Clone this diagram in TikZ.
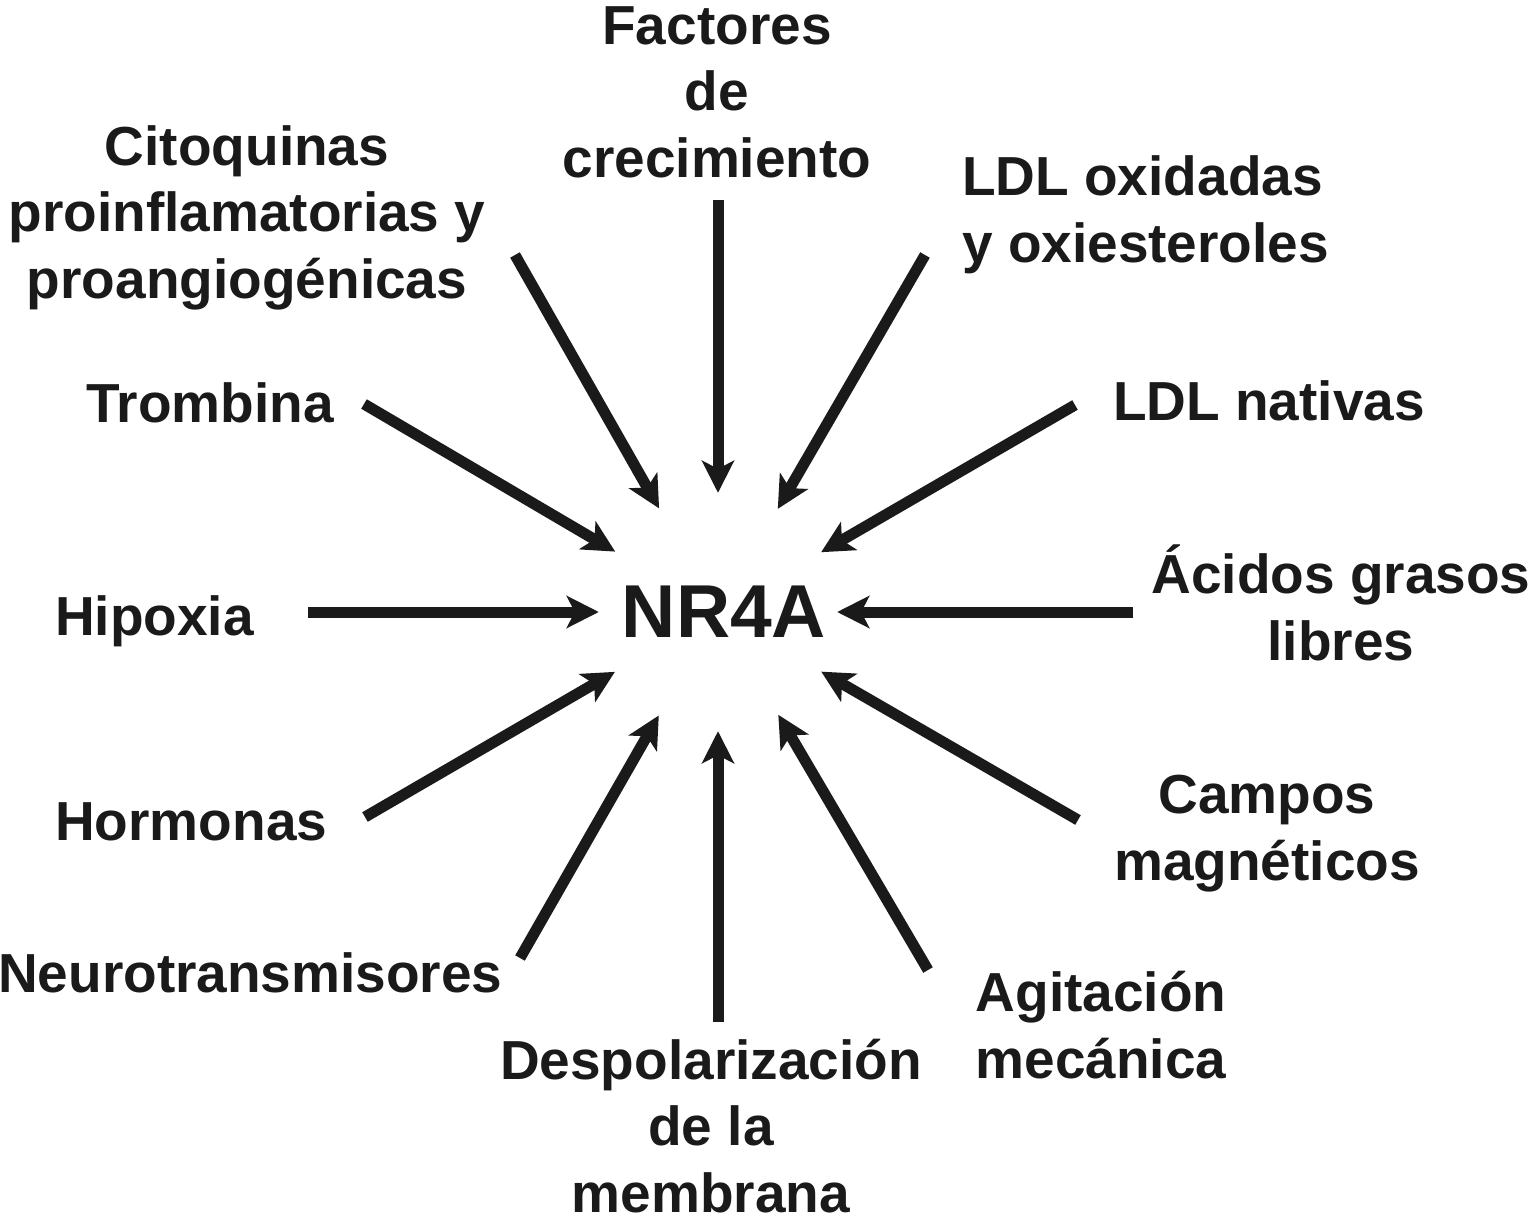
\documentclass[tikz,border=0pt]{standalone}
\usepackage{fontspec}
\setmainfont{Liberation Sans}
\usetikzlibrary{arrows.meta}
\definecolor{ink}{HTML}{1A1A1A}
\begin{document}
\begin{tikzpicture}[x=1pt,y=-1pt,
  lbl/.style={inner sep=0pt, text=ink, font=\fontsize{55}{66.5}\selectfont\bfseries},
  arr/.style={draw=ink, line width=11pt, -{Stealth[length=32pt,width=32pt,inset=8pt]}}]
\useasboundingbox (0,0) rectangle (1532,1223);
% centre
\node[circle, minimum size=238pt, inner sep=0pt, text=ink,
      font=\fontsize{75}{80}\selectfont\bfseries] (nr) at (718,612) {\hspace*{12pt}NR4A};
% labels (anchor = baseline of the last line)
\node[lbl, align=center, anchor=base] (fact) at (717,177) {Factores\\de\\crecimiento};
\node[lbl, align=center, anchor=base] (cito) at (247,298) {Citoquinas\\proinflamatorias y\\proangiogénicas};
\node[lbl, align=left, anchor=base west] (ldlox) at (962,262) {LDL oxidadas\\y oxiesteroles};
\node[lbl, anchor=base] (trom) at (210,422) {Trombina};
\node[lbl, anchor=base west] (ldlnat) at (1113,420) {LDL nativas};
\node[lbl, anchor=base west] (hipo) at (55,635) {Hipoxia};
\node[lbl, align=center, anchor=base] (acid) at (1341,660) {Ácidos grasos\\libres};
\node[lbl, anchor=base west] (horm) at (55,840) {Hormonas};
\node[lbl, align=center, anchor=base] (camp) at (1267,880) {Campos\\magnéticos};
\node[lbl, anchor=base west] (neuro) at (-2,992) {Neurotransmisores};
\node[lbl, align=center, anchor=base] (desp) at (711,1212) {Despolarización\\de la\\membrana};
\node[lbl, align=center, anchor=base] (agit) at (1101,1078) {Agitación\\mecánica};
% arrow starts
\coordinate (sfact) at (718,200);
\coordinate (scito) at (515,255);
\coordinate (sldlox) at (925,255);
\coordinate (strom) at (364,404);
\coordinate (sldlnat) at (1075,405);
\coordinate (shipo) at (308,612);
\coordinate (sacid) at (1133,612);
\coordinate (shorm) at (365,817);
\coordinate (scamp) at (1078,820);
\coordinate (sneuro) at (520,958);
\coordinate (sdesp) at (718,1022);
\coordinate (sagit) at (928,970);
% arrows
\foreach \s in {sfact,scito,sldlox,strom,sldlnat,shipo,sacid,shorm,scamp,sneuro,sdesp,sagit}
  \draw[arr] (\s) -- (nr);
\end{tikzpicture}
\end{document}
